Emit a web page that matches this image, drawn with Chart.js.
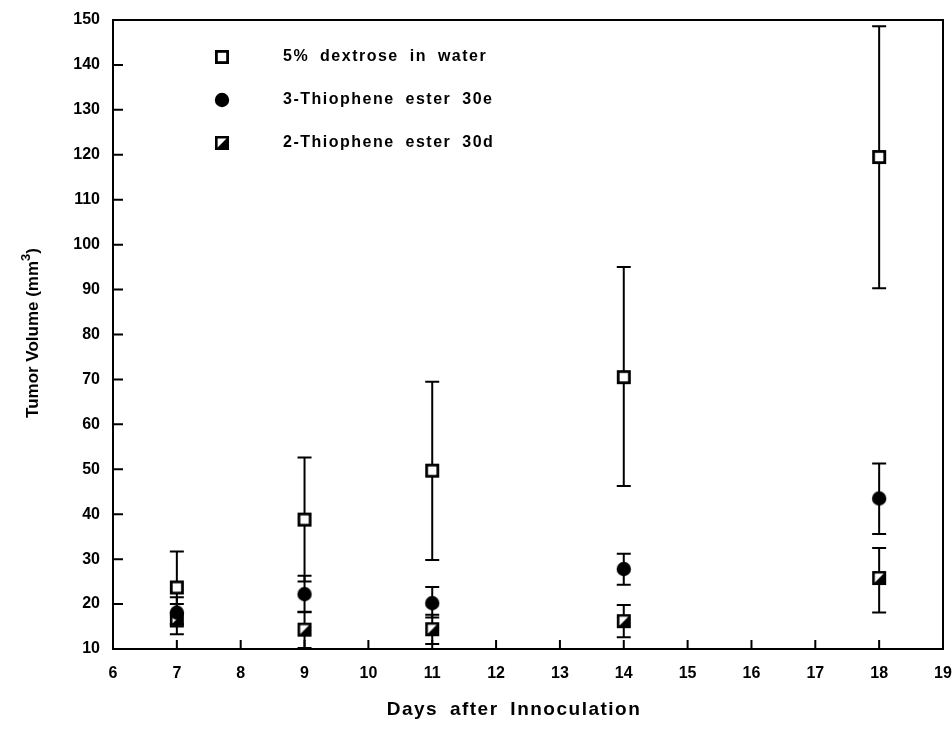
<!DOCTYPE html>
<html>
<head>
<meta charset="utf-8">
<script src="https://cdn.jsdelivr.net/npm/chart.js@4.4.0/dist/chart.umd.min.js"></script>
<style>
    html, body { margin: 0; padding: 0; background: #fff; }
    #wrap { width: 952px; height: 732px; }
</style>
</head>
<body>
<div id="wrap"><canvas id="tumorChart" width="952" height="732"></canvas></div>
<script>
// Days after innoculation
const days = [7, 9, 11, 14, 18];

// 5% dextrose in water
const dextroseMean = [23.7, 38.8, 49.7, 70.5, 119.5];
const dextroseHigh = [31.7, 52.6, 69.5, 95.0, 148.6];
const dextroseLow = [15.5, 25.0, 29.8, 46.3, 90.3];

// 3-Thiophene ester 30e
const thio3Mean = [18.1, 22.2, 20.2, 27.8, 43.5];
const thio3High = [21.5, 26.3, 23.8, 31.2, 51.3];
const thio3Low = [15.0, 18.3, 17.0, 24.3, 35.6];

// 2-Thiophene ester 30d
const thio2Mean = [16.7, 14.3, 14.4, 16.2, 25.8];
const thio2High = [20.0, 18.2, 17.6, 19.8, 32.5];
const thio2Low = [13.3, 10.2, 11.1, 12.6, 18.1];

const xTicks = [6, 7, 8, 9, 10, 11, 12, 13, 14, 15, 16, 17, 18, 19];
const yTicks = [10, 20, 30, 40, 50, 60, 70, 80, 90, 100, 110, 120, 130, 140, 150];

const legendLabels = ['5% dextrose in water', '3-Thiophene ester 30e', '2-Thiophene ester 30d'];

const FONT = "'Liberation Sans', Arial, sans-serif";

// Marker images
function makeMarker(kind) {
    const c = document.createElement('canvas');
    c.width = 20;
    c.height = 20;
    const ctx = c.getContext('2d');
    if (kind === 'open') {
        ctx.fillStyle = '#fff';
        ctx.fillRect(3, 3, 14, 14);
        ctx.strokeStyle = '#000';
        ctx.lineWidth = 2.8;
        ctx.strokeRect(4.4, 4.4, 11.2, 11.2);
    } else if (kind === 'circle') {
        ctx.fillStyle = '#000';
        ctx.beginPath();
        ctx.arc(10, 10, 7.2, 0, Math.PI * 2);
        ctx.fill();
    } else {
        ctx.fillStyle = '#000';
        ctx.fillRect(3, 3, 14, 14);
        ctx.fillStyle = '#fff';
        ctx.beginPath();
        ctx.moveTo(5.6, 5.6);
        ctx.lineTo(14.5, 5.6);
        ctx.lineTo(5.6, 14.5);
        ctx.closePath();
        ctx.fill();
    }
    return c;
}

const markers = [makeMarker('open'), makeMarker('circle'), makeMarker('half')];

function toPoints(means) {
    return days.map((d, i) => ({ x: d, y: means[i] }));
}

const errorSets = [
    { high: dextroseHigh, low: dextroseLow },
    { high: thio3High, low: thio3Low },
    { high: thio2High, low: thio2Low }
];

// Error bars drawn under the markers
const errorBarPlugin = {
    id: 'errorBars',
    beforeDatasetsDraw(chart) {
        const ctx = chart.ctx;
        const xs = chart.scales.x;
        const ys = chart.scales.y;
        ctx.save();
        ctx.strokeStyle = '#000';
        ctx.lineWidth = 2;
        errorSets.forEach(set => {
            days.forEach((d, i) => {
                const px = xs.getPixelForValue(d);
                const top = ys.getPixelForValue(set.high[i]);
                const bot = ys.getPixelForValue(set.low[i]);
                ctx.beginPath();
                ctx.moveTo(px, top);
                ctx.lineTo(px, bot);
                ctx.moveTo(px - 7, top);
                ctx.lineTo(px + 7, top);
                ctx.moveTo(px - 7, bot);
                ctx.lineTo(px + 7, bot);
                ctx.stroke();
            });
        });
        ctx.restore();
    }
};

// Frame, inward ticks, axis titles and legend
const framePlugin = {
    id: 'frame',
    afterDraw(chart) {
        const ctx = chart.ctx;
        const area = chart.chartArea;
        const xs = chart.scales.x;
        const ys = chart.scales.y;
        ctx.save();
        ctx.strokeStyle = '#000';
        ctx.lineWidth = 2;
        ctx.strokeRect(area.left, area.top, area.right - area.left, area.bottom - area.top);

        ctx.beginPath();
        yTicks.forEach(v => {
            const py = ys.getPixelForValue(v);
            ctx.moveTo(area.left, py);
            ctx.lineTo(area.left + 10, py);
        });
        xTicks.forEach(v => {
            const px = xs.getPixelForValue(v);
            ctx.moveTo(px, area.bottom);
            ctx.lineTo(px, area.bottom - 9);
        });
        ctx.stroke();

        ctx.fillStyle = '#000';
        ctx.textBaseline = 'middle';

        // x title
        ctx.font = 'bold 19px ' + FONT;
        ctx.letterSpacing = '1.5px';
        ctx.wordSpacing = '5px';
        ctx.textAlign = 'center';
        ctx.fillText('Days after Innoculation', 514, 710);

        // y title with superscript
        ctx.letterSpacing = '0px';
        ctx.wordSpacing = '0px';
        ctx.save();
        ctx.translate(33, 333);
        ctx.rotate(-Math.PI / 2);
        ctx.textAlign = 'left';
        const main = 'Tumor Volume (mm';
        ctx.font = 'bold 17px ' + FONT;
        const w1 = ctx.measureText(main).width;
        ctx.font = 'bold 13px ' + FONT;
        const w2 = ctx.measureText('3').width;
        ctx.font = 'bold 17px ' + FONT;
        const w3 = ctx.measureText(')').width;
        let x0 = -(w1 + w2 + w3) / 2;
        ctx.fillText(main, x0, 0);
        ctx.font = 'bold 13px ' + FONT;
        ctx.fillText('3', x0 + w1, -7);
        ctx.font = 'bold 17px ' + FONT;
        ctx.fillText(')', x0 + w1 + w2, 0);
        ctx.restore();

        // legend
        ctx.font = 'bold 16px ' + FONT;
        ctx.letterSpacing = '1.5px';
        ctx.wordSpacing = '5px';
        ctx.textAlign = 'left';
        legendLabels.forEach((label, i) => {
            const ly = 57 + i * 43;
            ctx.drawImage(markers[i], 222 - 10, ly - 10);
            ctx.fillText(label, 283, ly);
        });
        ctx.restore();
    }
};

const tickFont = { family: FONT, size: 16, weight: 'bold' };

new Chart(document.getElementById('tumorChart'), {
    type: 'scatter',
    data: {
        datasets: [
            { label: legendLabels[0], data: toPoints(dextroseMean), pointStyle: markers[0] },
            { label: legendLabels[1], data: toPoints(thio3Mean), pointStyle: markers[1] },
            { label: legendLabels[2], data: toPoints(thio2Mean), pointStyle: markers[2] }
        ]
    },
    options: {
        responsive: false,
        animation: false,
        devicePixelRatio: 1,
        layout: { padding: { top: 20, right: 9, left: 0, bottom: 0 } },
        plugins: {
            legend: { display: false },
            tooltip: { enabled: false }
        },
        scales: {
            x: {
                type: 'linear',
                min: 6,
                max: 19,
                afterFit(scale) {
                    scale.height = 83;
                    scale.paddingRight = 0;
                    scale.paddingLeft = 0;
                },
                afterBuildTicks(scale) { scale.ticks = xTicks.map(v => ({ value: v })); },
                ticks: { color: '#000', font: tickFont, padding: 15 },
                grid: { drawOnChartArea: false, drawTicks: false },
                border: { display: true, color: '#000', width: 2 }
            },
            y: {
                min: 10,
                max: 150,
                afterFit(scale) {
                    scale.width = 113;
                    scale.paddingTop = 0;
                    scale.paddingBottom = 0;
                },
                afterBuildTicks(scale) { scale.ticks = yTicks.map(v => ({ value: v })); },
                ticks: { color: '#000', font: tickFont, padding: 13 },
                grid: { drawOnChartArea: false, drawTicks: false },
                border: { display: true, color: '#000', width: 2 }
            }
        }
    },
    plugins: [errorBarPlugin, framePlugin]
});
</script>
</body>
</html>
